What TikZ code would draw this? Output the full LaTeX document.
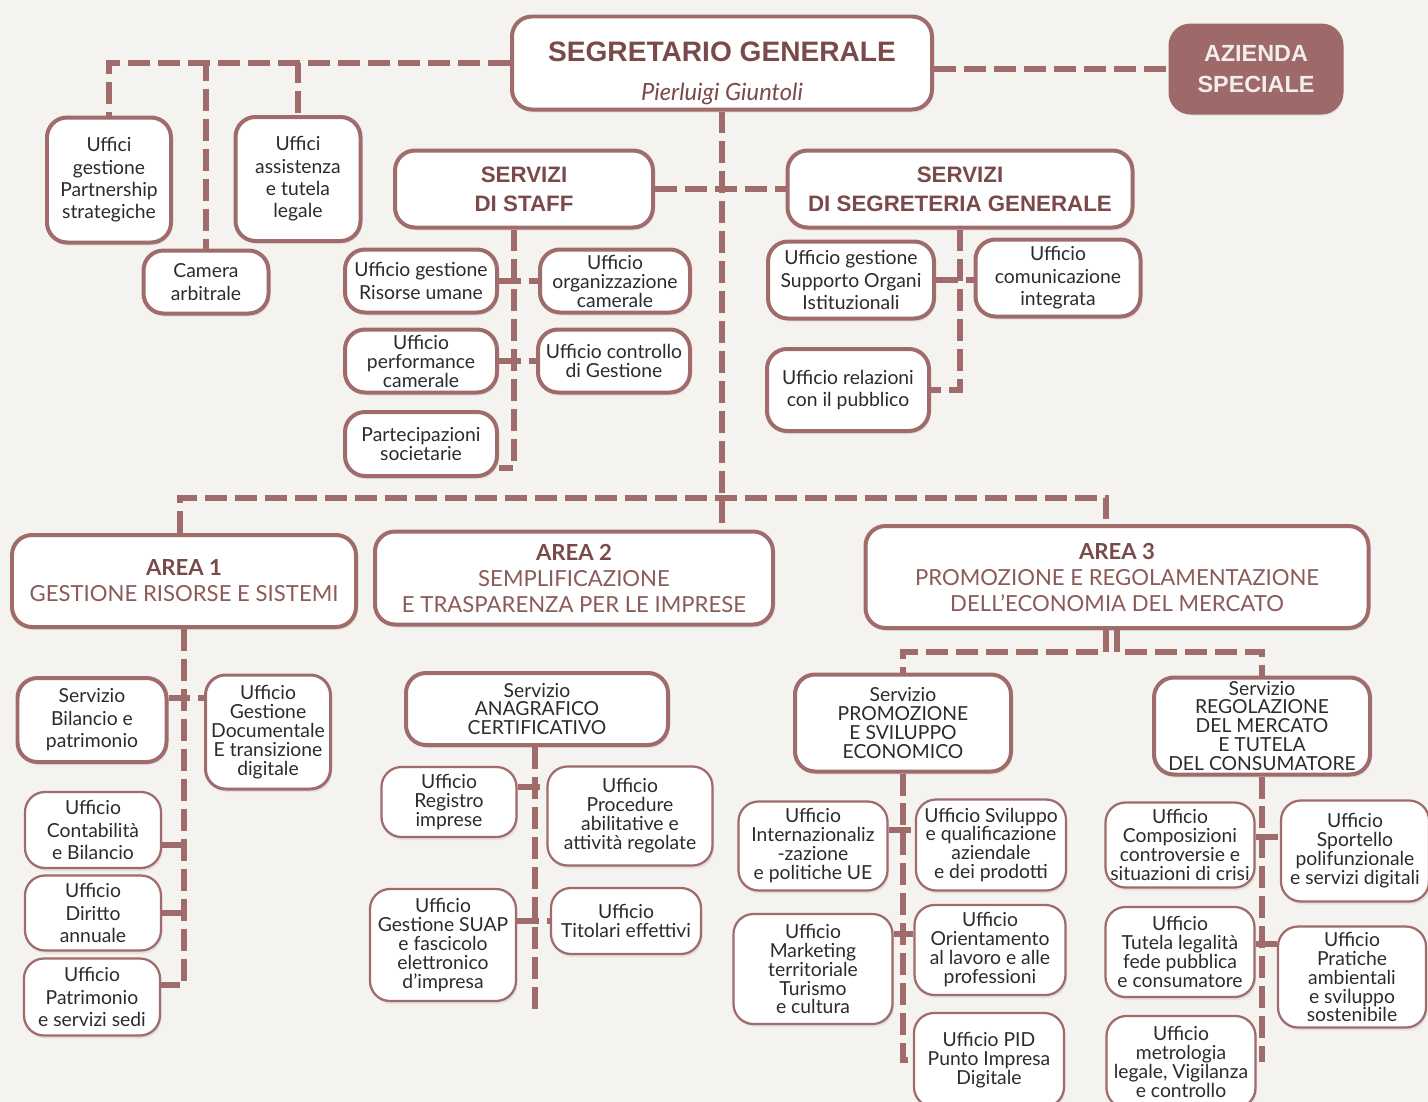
\documentclass[tikz,border=0pt]{standalone}
\usepackage{fontspec}
\setmainfont{Lato}
\newfontfamily\headfont{Liberation Sans}
\usetikzlibrary{shadows}
\definecolor{sfondo}{HTML}{F5F3EF}
\definecolor{linea}{HTML}{A06B6B}
\definecolor{marrone}{HTML}{7A4A4A}
\definecolor{marrone2}{HTML}{8B5A5A}
\definecolor{testo}{HTML}{2B2B2B}
\definecolor{azfill}{HTML}{9E6969}
\definecolor{aztext}{HTML}{F4EDED}

\begin{document}
\begin{tikzpicture}[x=0.02cm,y=-0.02cm,
    conn/.style={draw=linea, line width=0.12cm, dash pattern=on 0.44cm off 0.16cm},
    box/.style={draw=linea, fill=white, line width=0.08cm, rounded corners=0.4cm, align=center, inner sep=0pt, text=testo,
      font=\fontsize{11}{12.75}\selectfont, drop shadow={shadow xshift=0.03cm, shadow yshift=-0.06cm, opacity=0.15}},
    boxthin/.style={box, line width=0.045cm},
    fitta/.style={font=\fontsize{11}{10.8}\selectfont},
    capo/.style={box, text=marrone, font=\headfont\bfseries\fontsize{12.7}{16.5}\selectfont},
    area/.style={box, text=marrone2, font=\fontsize{12.6}{14.8}\selectfont},
    sz/.style 2 args={minimum width=#1*0.02cm, minimum height=#2*0.02cm}
  ]
  \fill[sfondo] (0,0) rectangle (1428,1102);
  \useasboundingbox (0,0) rectangle (1428,1102);

  \node[box, sz={420}{93}, text=marrone, font=\headfont\bfseries\fontsize{16}{22.7}\selectfont] (sg) at (722,63)
    {\rule{0pt}{23pt}SEGRETARIO GENERALE\\{\normalfont\itshape\fontsize{13.5}{22.7}\selectfont Pierluigi Giuntoli}};
  \node[box, sz={171}{87}, fill=azfill, draw=azfill, text=aztext, font=\headfont\bfseries\fontsize{13.3}{18}\selectfont] (azienda) at (1256,69) {AZIENDA\\SPECIALE};

  \node[box, sz={124}{125}] (partner) at (109,180) {Uffici\\gestione\\Partnership\\strategiche};
  \node[box, sz={125}{124}] (assist) at (298,179) {Uffici\\assistenza\\e tutela\\legale};
  \node[box, sz={125}{63}] (camera) at (206,282) {Camera\\arbitrale};

  \node[capo, sz={258}{77}] (staff) at (524,189) {SERVIZI\\DI STAFF};
  \node[capo, sz={345}{77}] (segr) at (960,189) {SERVIZI\\DI SEGRETERIA GENERALE};

  \node[box, sz={152}{63}] (risorse) at (421,281) {Ufficio gestione\\Risorse umane};
  \node[box, fitta, sz={150}{63}] (organiz) at (615,281) {Ufficio\\organizzazione\\camerale};
  \node[box, fitta, sz={152}{63}] (perform) at (421,361) {Ufficio\\performance\\camerale};
  \node[box, fitta, sz={152}{63}] (controllo) at (614,361) {Ufficio controllo\\di Gestione};
  \node[box, fitta, sz={152}{64}] (partecip) at (421,444) {Partecipazioni\\societarie};

  \node[box, sz={166}{77}] (supporto) at (851,280) {Ufficio gestione\\Supporto Organi\\Istituzionali};
  \node[box, sz={165}{77}] (comunic) at (1058,278) {Ufficio\\comunicazione\\integrata};
  \node[box, sz={162}{82}] (relaz) at (848,390) {Ufficio relazioni\\con il pubblico};

  \node[area, sz={344}{92}] (area1) at (184,581) {{\bfseries\color{marrone}AREA 1}\\GESTIONE RISORSE E SISTEMI};
  \node[area, sz={398}{93}] (area2) at (574,578) {{\bfseries\color{marrone}AREA 2}\\SEMPLIFICAZIONE\\E TRASPARENZA PER LE IMPRESE};
  \node[area, sz={503}{102}] (area3) at (1117,577) {{\bfseries\color{marrone}AREA 3}\\PROMOZIONE E REGOLAMENTAZIONE\\DELL'ECONOMIA DEL MERCATO};

  \node[box, sz={149}{84}] (bilancio) at (92,720) {Servizio\\Bilancio e\\patrimonio};
  \node[box, fitta, line width=0.06cm, sz={125}{114}] (gestdoc) at (268,732) {Ufficio\\Gestione\\Documentale\\E transizione\\digitale};
  \node[boxthin, sz={136}{76}] (contab) at (93,830) {Ufficio\\Contabilità\\e Bilancio};
  \node[boxthin, sz={136}{75}] (diritto) at (93,913) {Ufficio\\Diritto\\annuale};
  \node[boxthin, sz={136}{77}] (patrim) at (92,997) {Ufficio\\Patrimonio\\e servizi sedi};

  \node[box, fitta, sz={262}{72}] (anagr) at (537,709) {Servizio\\ANAGRAFICO\\CERTIFICATIVO};
  \node[boxthin, fitta, sz={135}{70}] (registro) at (449,802) {Ufficio\\Registro\\imprese};
  \node[boxthin, fitta, sz={165}{99}] (proced) at (630,816) {Ufficio\\Procedure\\abilitative e\\attività regolate};
  \node[boxthin, fitta, sz={146}{112}] (suap) at (443,945) {Ufficio\\Gestione SUAP\\e fascicolo\\elettronico\\d'impresa};
  \node[boxthin, fitta, sz={150}{66}] (titolari) at (626,921) {Ufficio\\Titolari effettivi};

  \node[box, fitta, sz={216}{97}] (promoz) at (903,723) {Servizio\\PROMOZIONE\\E SVILUPPO\\ECONOMICO};
  \node[box, fitta, sz={216}{97}] (regolaz) at (1262,726) {Servizio\\REGOLAZIONE\\DEL MERCATO\\E TUTELA\\DEL CONSUMATORE};

  \node[boxthin, fitta, sz={149}{89}] (internaz) at (813,846) {Ufficio\\Internazionaliz\\-zazione\\e politiche UE};
  \node[boxthin, fitta, sz={150}{91}] (svilup) at (991,845) {Ufficio Sviluppo\\e qualificazione\\aziendale\\e dei prodotti};
  \node[boxthin, fitta, sz={159}{110}] (marketing) at (813,969) {Ufficio\\Marketing\\territoriale\\Turismo\\e cultura};
  \node[boxthin, fitta, sz={151}{90}] (orient) at (990,950) {Ufficio\\Orientamento\\al lavoro e alle\\professioni};
  \node[boxthin, fitta, sz={150}{94}] (pid) at (989,1060) {Ufficio PID\\Punto Impresa\\Digitale};

  \node[boxthin, fitta, sz={149}{85}] (compos) at (1180,845) {Ufficio\\Composizioni\\controversie e\\situazioni di crisi};
  \node[boxthin, fitta, sz={148}{101}] (sportello) at (1355,851) {Ufficio\\Sportello\\polifunzionale\\e servizi digitali};
  \node[boxthin, fitta, sz={149}{90}] (tutela) at (1180,952) {Ufficio\\Tutela legalità\\fede pubblica\\e consumatore};
  \node[boxthin, fitta, sz={148}{101}] (pratiche) at (1352,977) {Ufficio\\Pratiche\\ambientali\\e sviluppo\\sostenibile};
  \node[boxthin, fitta, sz={149}{92}] (metrol) at (1181,1062) {Ufficio\\metrologia\\legale, Vigilanza\\e controllo};

  \coordinate (b1) at (180,498);
  \coordinate (b3) at (1106,498);
  \coordinate (st) at (514,468);
  \coordinate (sgt) at (960,390);
  \coordinate (a1) at (184,985);
  \coordinate (a2) at (535,1010);
  \coordinate (a3l) at (1106,652);
  \coordinate (a3r) at (1117,652);
  \coordinate (rg) at (1263,1062);

  \draw[conn] (sg.west) -| (partner.north);
  \draw[conn] (sg.west) -| (camera.north);
  \draw[conn] (sg.west) -| (assist.north);
  \draw[conn] (sg.east |- azienda.west) -- (azienda.west);
  \draw[conn] (sg.south) -- (sg.south |- area2.north);
  \draw[conn] (area1.north -| b1) -- (b1) -- (b3) -- (area3.north -| b3);

  \draw[conn] (staff.east) -- (segr.west);
  \draw[conn] (staff.south -| st) -- (st) -- (partecip.east |- st);
  \draw[conn] (risorse.east) -- (organiz.west);
  \draw[conn] (perform.east) -- (controllo.west);
  \draw[conn] (segr.south -| sgt) -- (sgt) -- (relaz.east |- sgt);
  \draw[conn] (supporto.east) -- (comunic.west |- supporto.east);

  \draw[conn] (area1.south) -- (a1) -- (patrim.east |- a1);
  \draw[conn] (bilancio.16) -- (gestdoc.west |- bilancio.16);
  \draw[conn] (contab.-12) -- (contab.-12 -| a1);
  \draw[conn] (diritto.east) -- (diritto.east -| a1);

  \draw[conn] (anagr.south -| a2) -- (a2);
  \draw[conn] (registro.12) -- (proced.west |- registro.12);
  \draw[conn] (suap.east |- titolari.west) -- (titolari.west);

  \draw[conn] (area3.south -| a3l) -- (a3l) -| (promoz.north);
  \draw[conn] (area3.south) -- (a3r) -| (regolaz.north);
  \draw[conn] (promoz.south) -- (promoz.south |- pid.west) -- (pid.west);
  \draw[conn] (internaz.12) -- (svilup.west |- internaz.12);
  \draw[conn] (marketing.east |- orient.168) -- (orient.168);
  \draw[conn] (regolaz.south) -- (regolaz.south |- rg);
  \draw[conn] (compos.6) -- (sportello.west |- compos.6);
  \draw[conn] (tutela.6) -- (pratiche.west |- tutela.6);
\end{tikzpicture}
\end{document}
